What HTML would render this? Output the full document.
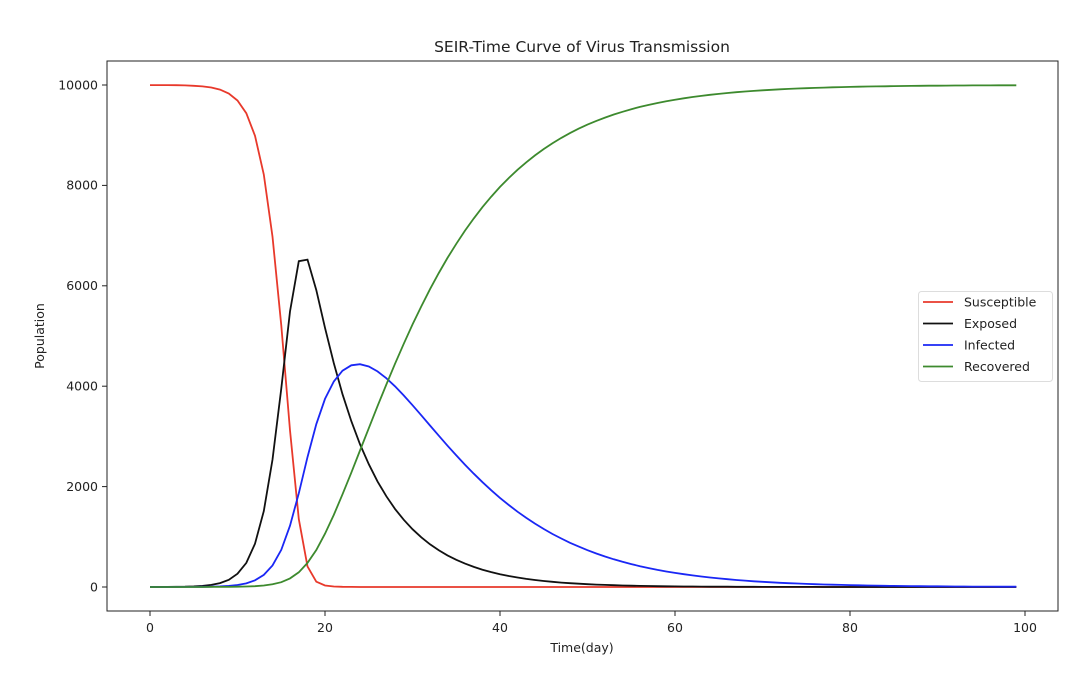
<!DOCTYPE html>
<html><head><meta charset="utf-8"><style>
body{margin:0;background:#fff;width:1080px;height:670px;overflow:hidden}
text{font-family:"DejaVu Sans","Liberation Sans",sans-serif;fill:#222}
</style></head><body>
<svg id="s" width="1080" height="670" xmlns="http://www.w3.org/2000/svg">
<rect x="107" y="61" width="951" height="550" fill="none" stroke="#222" stroke-width="1"/>
<g font-size="12.5" text-anchor="middle">
<text x="150" y="632">0</text><text x="325" y="632">20</text><text x="500" y="632">40</text>
<text x="675" y="632">60</text><text x="850" y="632">80</text><text x="1025" y="632">100</text>
</g>
<g stroke="#222"><line x1="150" y1="611" x2="150" y2="616"/><line x1="325" y1="611" x2="325" y2="616"/><line x1="500" y1="611" x2="500" y2="616"/><line x1="675" y1="611" x2="675" y2="616"/><line x1="850" y1="611" x2="850" y2="616"/><line x1="1025" y1="611" x2="1025" y2="616"/>
<line x1="102" y1="587" x2="107" y2="587"/><line x1="102" y1="486.6" x2="107" y2="486.6"/><line x1="102" y1="386.2" x2="107" y2="386.2"/><line x1="102" y1="285.8" x2="107" y2="285.8"/><line x1="102" y1="185.4" x2="107" y2="185.4"/><line x1="102" y1="85" x2="107" y2="85"/></g>
<g font-size="12.5" text-anchor="end">
<text x="98" y="591.5">0</text><text x="98" y="491">2000</text><text x="98" y="390.5">4000</text><text x="98" y="290">6000</text><text x="98" y="189.5">8000</text><text x="98" y="89.5">10000</text>
</g>
<text x="582" y="52" font-size="15.5" text-anchor="middle">SEIR-Time Curve of Virus Transmission</text>
<text x="582" y="652" font-size="12.5" text-anchor="middle">Time(day)</text>
<text x="44" y="336" font-size="12.5" text-anchor="middle" transform="rotate(-90 44 336)">Population</text>
<g id="lines" fill="none" stroke-width="1.8"></g>
<rect x="918.5" y="291.5" width="134" height="90" rx="3" fill="#fff" fill-opacity="0.8" stroke="#ddd"/>
<g stroke-width="1.8"><line x1="923" y1="302" x2="953" y2="302" stroke="#e8392b"/><line x1="923" y1="323.5" x2="953" y2="323.5" stroke="#111"/><line x1="923" y1="345" x2="953" y2="345" stroke="#1a27f5"/><line x1="923" y1="366.5" x2="953" y2="366.5" stroke="#3d8a2e"/></g>
<g font-size="12.5"><text x="964" y="306.5">Susceptible</text><text x="964" y="328">Exposed</text><text x="964" y="349.5">Infected</text><text x="964" y="371">Recovered</text></g>
</svg>
<script>
var N=10000;
function sim(bI,bE,a,g,I0){var S=[N-I0],E=[0],I=[I0],R=[0];for(var t=0;t<99;t++){var s=S[t],e=E[t],i=I[t],r=R[t];var inf=(bI*i+bE*e)*s/N;if(inf>s)inf=s;S.push(s-inf);E.push(e+inf-a*e);I.push(i+a*e-g*i);R.push(r+g*i);}return[S,E,I,R];}
var T=[[0,13,8200],[0,14,6900],[0,17,1300],[0,18,400],[1,12,900],[1,13,1500],[1,14,2500],[1,17,6480],[1,18,6520],[1,19,5900],[1,30,1036],[2,24,4430],[2,60,340],[3,30,5000],[3,40,8000]];
var best=null,bl=1e30;
for(var bI=0.05;bI<=1.2;bI+=0.05)for(var bE=0;bE<=1.2;bE+=0.05)for(var a=0.08;a<=0.3;a+=0.02)for(var g=0.04;g<=0.2;g+=0.02)for(var k=0;k<4;k++){var I0=[1,3,10,30][k];var r=sim(bI,bE,a,g,I0),l=0;for(var j=0;j<T.length;j++){var d=r[T[j][0]][T[j][1]]-T[j][2];l+=d*d;if(l>bl)break;}if(l<bl){bl=l;best=r;}}
var cols=["#e8392b","#111","#1a27f5","#3d8a2e"],h="";
for(var c=0;c<4;c++){var p=[];for(var t=0;t<100;t++)p.push((150+8.75*t).toFixed(1)+","+(587-best[c][t]*0.0502).toFixed(1));h+='<polyline stroke="'+cols[c]+'" points="'+p.join(" ")+'"/>';}
document.getElementById("lines").innerHTML=h;
</script>
</body></html>
